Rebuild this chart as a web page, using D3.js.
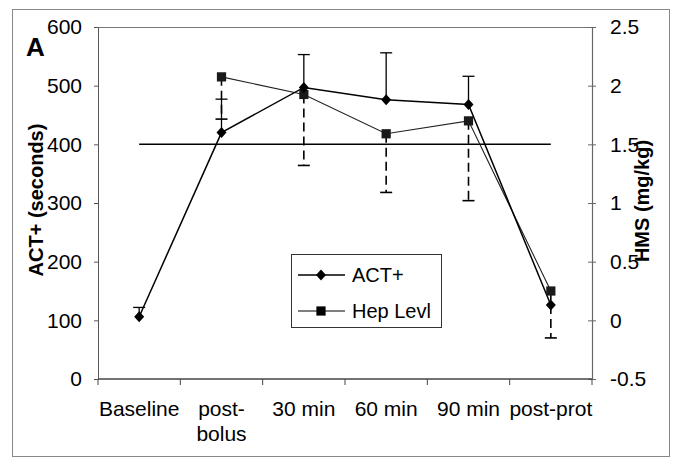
<!DOCTYPE html>
<html>
<head>
<meta charset="utf-8">
<script src="https://cdn.jsdelivr.net/npm/d3@7"></script>
<style>
  body { margin: 0; background: #fff; }
  svg text { font-family: "Liberation Sans", Arial, sans-serif; fill: #000; }
</style>
</head>
<body>
<div id="chart"></div>
<script>
// data
const categories = ["Baseline", "post-bolus", "30 min", "60 min", "90 min", "post-prot"];
const categoryLines = [["Baseline"], ["post-", "bolus"], ["30 min"], ["60 min"], ["90 min"], ["post-prot"]];
const actValues = [106, 420, 497, 476, 468, 126];       // seconds, left axis
const actUpper = [122, 477, 553, 556, 516, null];        // top of error bar
const hepValues = [null, 2.075, 1.925, 1.59, 1.70, 0.25]; // mg/kg, right axis
const hepLower = [null, 1.715, 1.32, 1.09, 1.02, -0.15];  // bottom of error bar
const leftTicks = [0, 100, 200, 300, 400, 500, 600];
const rightTicks = [-0.5, 0, 0.5, 1, 1.5, 2, 2.5];
const refLine = 400;

const W = 673, H = 459;
const margin = { top: 27, right: 81, bottom: 80, left: 98 };

const svg = d3.select("#chart").append("svg")
  .attr("width", W)
  .attr("height", H);

// outer frame of the figure
svg.append("rect")
  .attr("x", 12.5).attr("y", 9.5)
  .attr("width", 657).attr("height", 447)
  .attr("fill", "none").attr("stroke", "#888").attr("stroke-width", 1);

const x = d3.scaleBand()
  .domain(categories)
  .range([margin.left, W - margin.right]);

const yL = d3.scaleLinear().domain([0, 600]).range([H - margin.bottom, margin.top]);
const yR = d3.scaleLinear().domain([-0.5, 2.5]).range([H - margin.bottom, margin.top]);

// plot box (top and right sides are faint)
svg.append("line")
  .attr("x1", margin.left).attr("x2", W - margin.right)
  .attr("y1", margin.top + 0.5).attr("y2", margin.top + 0.5)
  .attr("stroke", "#777").attr("stroke-width", 1.2);
svg.append("line")
  .attr("x1", W - margin.right + 0.5).attr("x2", W - margin.right + 0.5)
  .attr("y1", margin.top).attr("y2", H - margin.bottom)
  .attr("stroke", "#777").attr("stroke-width", 1.2);

// left axis
const leftAxis = svg.append("g")
  .attr("transform", `translate(${margin.left},0)`)
  .call(d3.axisLeft(yL).tickValues(leftTicks).tickSize(4).tickPadding(12).tickSizeOuter(0));
leftAxis.select(".domain").attr("stroke", "#555");
leftAxis.selectAll(".tick line").attr("stroke", "#555");
leftAxis.selectAll(".tick text").style("font-size", "21px");

// right axis, ticks cross the line
const rightAxis = svg.append("g")
  .attr("transform", `translate(${W - margin.right},0)`)
  .call(d3.axisRight(yR).tickValues(rightTicks).tickSize(4).tickPadding(14).tickSizeOuter(0)
    .tickFormat((d) => String(d)));
rightAxis.select(".domain").attr("stroke", "#666");
rightAxis.selectAll(".tick line").attr("x1", -4).attr("stroke", "#666");
rightAxis.selectAll(".tick text").style("font-size", "21px");

// bottom axis: ticks on the band edges, labels in the middle
const xAxis = svg.append("g");
xAxis.append("line")
  .attr("x1", margin.left).attr("x2", W - margin.right)
  .attr("y1", yL(0)).attr("y2", yL(0))
  .attr("stroke", "#444").attr("stroke-width", 1.3);
const edges = categories.map((c) => x(c)).concat([x(categories[categories.length - 1]) + x.bandwidth()]);
xAxis.selectAll("line.xtick")
  .data(edges)
  .join("line")
  .attr("class", "xtick")
  .attr("x1", (d) => d).attr("x2", (d) => d)
  .attr("y1", yL(0)).attr("y2", yL(0) + 6)
  .attr("stroke", "#444");
const xLabels = xAxis.selectAll("text.xlabel")
  .data(categories)
  .join("text")
  .attr("class", "xlabel")
  .attr("text-anchor", "middle")
  .attr("y", yL(0) + 37)
  .style("font-size", "21px");
xLabels.each(function (d, i) {
  const t = d3.select(this);
  categoryLines[i].forEach((line, j) => {
    t.append("tspan")
      .attr("x", x(d) + x.bandwidth() / 2)
      .attr("dy", j === 0 ? 0 : 25)
      .text(line);
  });
});

// axis titles
svg.append("text")
  .attr("transform", `translate(43,200) rotate(-90)`)
  .attr("text-anchor", "middle")
  .style("font-size", "20px").style("font-weight", "bold")
  .text("ACT+ (seconds)");
svg.append("text")
  .attr("transform", `translate(649,201) rotate(-90)`)
  .attr("text-anchor", "middle")
  .style("font-size", "20px").style("font-weight", "bold")
  .text("HMS (mg/kg)");

svg.append("text")
  .attr("x", 26).attr("y", 56)
  .style("font-size", "26px").style("font-weight", "bold")
  .text("A");

const cx = (c) => x(c) + x.bandwidth() / 2;

// reference line at 400 s
svg.append("line")
  .attr("x1", cx(categories[0])).attr("x2", cx(categories[categories.length - 1]))
  .attr("y1", yL(refLine)).attr("y2", yL(refLine))
  .attr("stroke", "#000").attr("stroke-width", 1.5);

// marker shapes
const diamondType = {
  draw(ctx, size) {
    const r = Math.sqrt(size) / 2;
    ctx.moveTo(0, -r * 1.1);
    ctx.lineTo(r, 0);
    ctx.lineTo(0, r * 1.1);
    ctx.lineTo(-r, 0);
    ctx.closePath();
  }
};
const diamond = d3.symbol().type(diamondType).size(100);
const square = d3.symbol().type(d3.symbolSquare).size(85);

const actPts = categories.map((c, i) => ({ c, v: actValues[i], hi: actUpper[i] }));
const hepPts = categories.map((c, i) => ({ c, v: hepValues[i], lo: hepLower[i] })).filter((d) => d.v !== null);

// hep error bars (dashed, downwards)
const hepErr = svg.append("g").selectAll("g")
  .data(hepPts.filter((d) => d.lo !== null))
  .join("g");
hepErr.append("line")
  .attr("x1", (d) => cx(d.c)).attr("x2", (d) => cx(d.c))
  .attr("y1", (d) => yR(d.v)).attr("y2", (d) => yR(d.lo))
  .attr("stroke", "#000").attr("stroke-width", 1.6)
  .attr("stroke-dasharray", "9,5");
hepErr.append("line")
  .attr("x1", (d) => cx(d.c) - 6).attr("x2", (d) => cx(d.c) + 6)
  .attr("y1", (d) => yR(d.lo)).attr("y2", (d) => yR(d.lo))
  .attr("stroke", "#000").attr("stroke-width", 1.6);

// act error bars (solid, upwards)
const actErr = svg.append("g").selectAll("g")
  .data(actPts.filter((d) => d.hi !== null))
  .join("g");
actErr.append("line")
  .attr("x1", (d) => cx(d.c)).attr("x2", (d) => cx(d.c))
  .attr("y1", (d) => yL(d.v)).attr("y2", (d) => yL(d.hi))
  .attr("stroke", "#000").attr("stroke-width", 1.3);
actErr.append("line")
  .attr("x1", (d) => cx(d.c) - 6).attr("x2", (d) => cx(d.c) + 6)
  .attr("y1", (d) => yL(d.hi)).attr("y2", (d) => yL(d.hi))
  .attr("stroke", "#000").attr("stroke-width", 1.3);

// series lines
svg.append("path")
  .datum(hepPts)
  .attr("fill", "none").attr("stroke", "#222").attr("stroke-width", 1.1)
  .attr("d", d3.line().x((d) => cx(d.c)).y((d) => yR(d.v)));
svg.append("path")
  .datum(actPts)
  .attr("fill", "none").attr("stroke", "#000").attr("stroke-width", 1.5)
  .attr("d", d3.line().x((d) => cx(d.c)).y((d) => yL(d.v)));

// markers
svg.append("g").selectAll("path")
  .data(hepPts)
  .join("path")
  .attr("transform", (d) => `translate(${cx(d.c)},${yR(d.v)})`)
  .attr("d", square)
  .attr("fill", "#1a1a1a");
svg.append("g").selectAll("path")
  .data(actPts)
  .join("path")
  .attr("transform", (d) => `translate(${cx(d.c)},${yL(d.v)})`)
  .attr("d", diamond)
  .attr("fill", "#000");

// legend
const legend = svg.append("g").attr("transform", "translate(291,254)");
legend.append("rect")
  .attr("x", 0.5).attr("y", 0.5)
  .attr("width", 150).attr("height", 73)
  .attr("fill", "#fff").attr("stroke", "#333").attr("stroke-width", 1);
const legendItems = [
  { label: "ACT+", shape: diamond, width: 1.5, y: 21 },
  { label: "Hep Levl", shape: square, width: 1.1, y: 57 }
];
legendItems.forEach((it) => {
  legend.append("line")
    .attr("x1", 7).attr("x2", 54)
    .attr("y1", it.y).attr("y2", it.y)
    .attr("stroke", "#000").attr("stroke-width", it.width);
  legend.append("path")
    .attr("transform", `translate(30,${it.y})`)
    .attr("d", it.shape)
    .attr("fill", "#000");
  legend.append("text")
    .attr("x", 61).attr("y", it.y + 7)
    .style("font-size", "20px")
    .text(it.label);
});
</script>
</body>
</html>
